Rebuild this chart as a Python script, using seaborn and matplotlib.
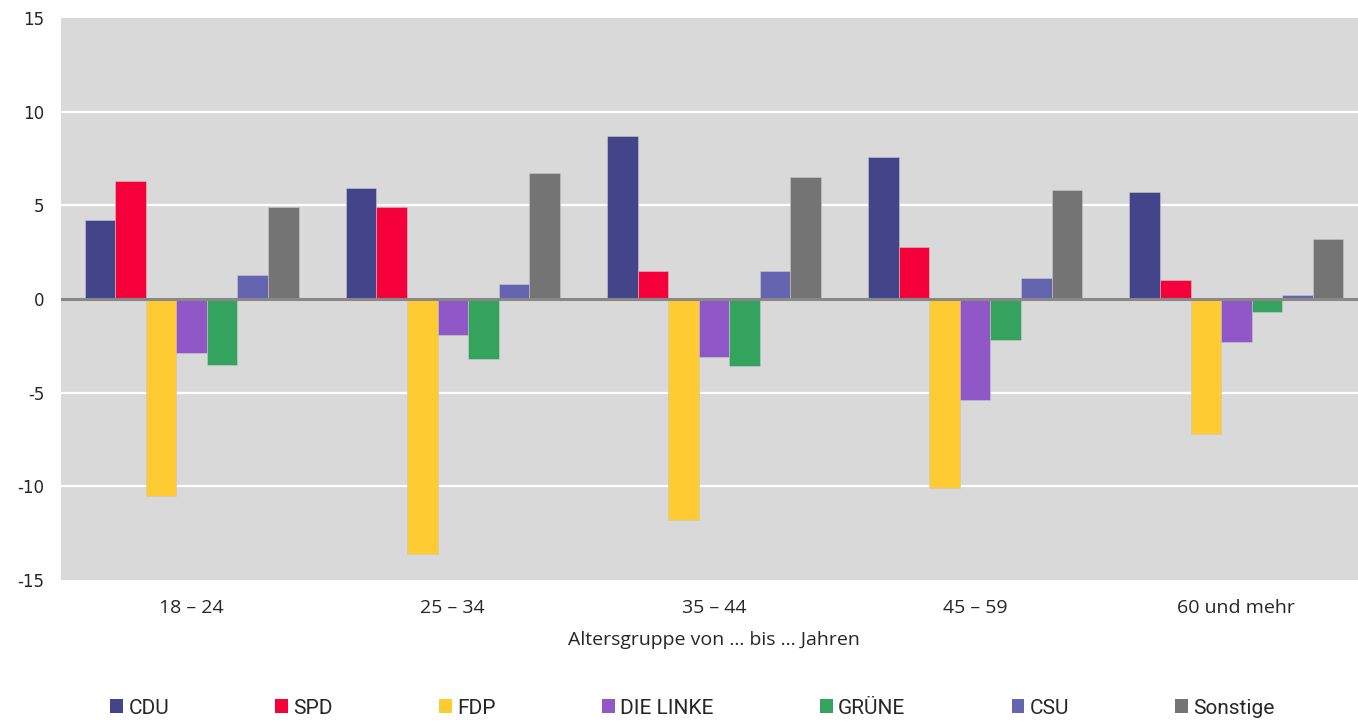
import pandas as pd
import seaborn as sns
import matplotlib.pyplot as plt
from matplotlib.patches import Patch

# Altersgruppen und Parteien
gruppen = ["18 – 24", "25 – 34", "35 – 44", "45 – 59", "60 und mehr"]
parteien = ["CDU", "SPD", "FDP", "DIE LINKE", "GRÜNE", "CSU", "Sonstige"]

# Veränderung in Prozentpunkten je Altersgruppe
cdu = [4.2, 5.9, 8.7, 7.6, 5.7]
spd = [6.3, 4.9, 1.5, 2.8, 1.0]
fdp = [-10.5, -13.6, -11.8, -10.1, -7.2]
linke = [-2.9, -1.9, -3.1, -5.4, -2.3]
gruene = [-3.5, -3.2, -3.6, -2.2, -0.7]
csu = [1.3, 0.8, 1.5, 1.1, 0.2]
sonstige = [4.9, 6.7, 6.5, 5.8, 3.2]

farben = ["#43448A", "#F5003A", "#FFCB32", "#9058C6", "#33A35E", "#6464B0", "#747474"]

werte = [cdu, spd, fdp, linke, gruene, csu, sonstige]
rows = []
for partei, serie in zip(parteien, werte):
    for g, v in zip(gruppen, serie):
        rows.append({"gruppe": g, "partei": partei, "wert": v})
df = pd.DataFrame(rows)

sns.set_style("white")
plt.rcParams["font.family"] = ["DejaVu Sans"]
plt.rcParams["axes.unicode_minus"] = False

fig = plt.figure(figsize=(13.58, 7.24), dpi=100)
# Achse ragt rechts etwas über den Bildrand hinaus
ax = fig.add_axes([61 / 1358, 1 - 580 / 724, 1306 / 1358, (580 - 18) / 724])

ax.set_facecolor("#D9D9D9")
for y in [-10, -5, 5, 10]:
    ax.axhline(y, color="white", lw=1.6, zorder=0.5)

sns.barplot(data=df, x="gruppe", y="wert", hue="partei", order=gruppen,
            hue_order=parteien, palette=farben, saturation=1, width=0.82,
            edgecolor="#C8C8C8", linewidth=0.4, ax=ax, zorder=2)
ax.axhline(0, color="#888888", lw=2.2, zorder=3)

ax.set_ylim(-15, 15)
ax.set_xlim(-0.5, 4.5)
ax.set_yticks([-15, -10, -5, 0, 5, 10, 15])
ax.set_yticklabels(["-15", "-10", "-5", "0", "5", "10", "15"], fontsize=12)
ax.tick_params(axis="both", length=0)
ax.tick_params(axis="y", pad=12)
ax.tick_params(axis="x", pad=14)
for lbl in ax.get_xticklabels():
    lbl.set_fontfamily(["Open Sans", "DejaVu Sans"])
    lbl.set_fontsize(14)
ax.set_xlabel("Altersgruppe von ... bis ... Jahren", fontsize=14,
              family=["Open Sans", "DejaVu Sans"], labelpad=10)
ax.set_ylabel("")
for s in ax.spines.values():
    s.set_visible(False)

ax.get_legend().remove()
handles = [Patch(facecolor=c, edgecolor="none") for c in farben]
fig.legend(handles, parteien, loc="lower center", bbox_to_anchor=(0.510, -0.017),
           ncol=7, frameon=False, handlelength=0.62, handleheight=0.62,
           handletextpad=0.25, columnspacing=5.1,
           prop={"family": ["Roboto", "DejaVu Sans"], "size": 15})

fig.savefig("out.png", dpi=100)
